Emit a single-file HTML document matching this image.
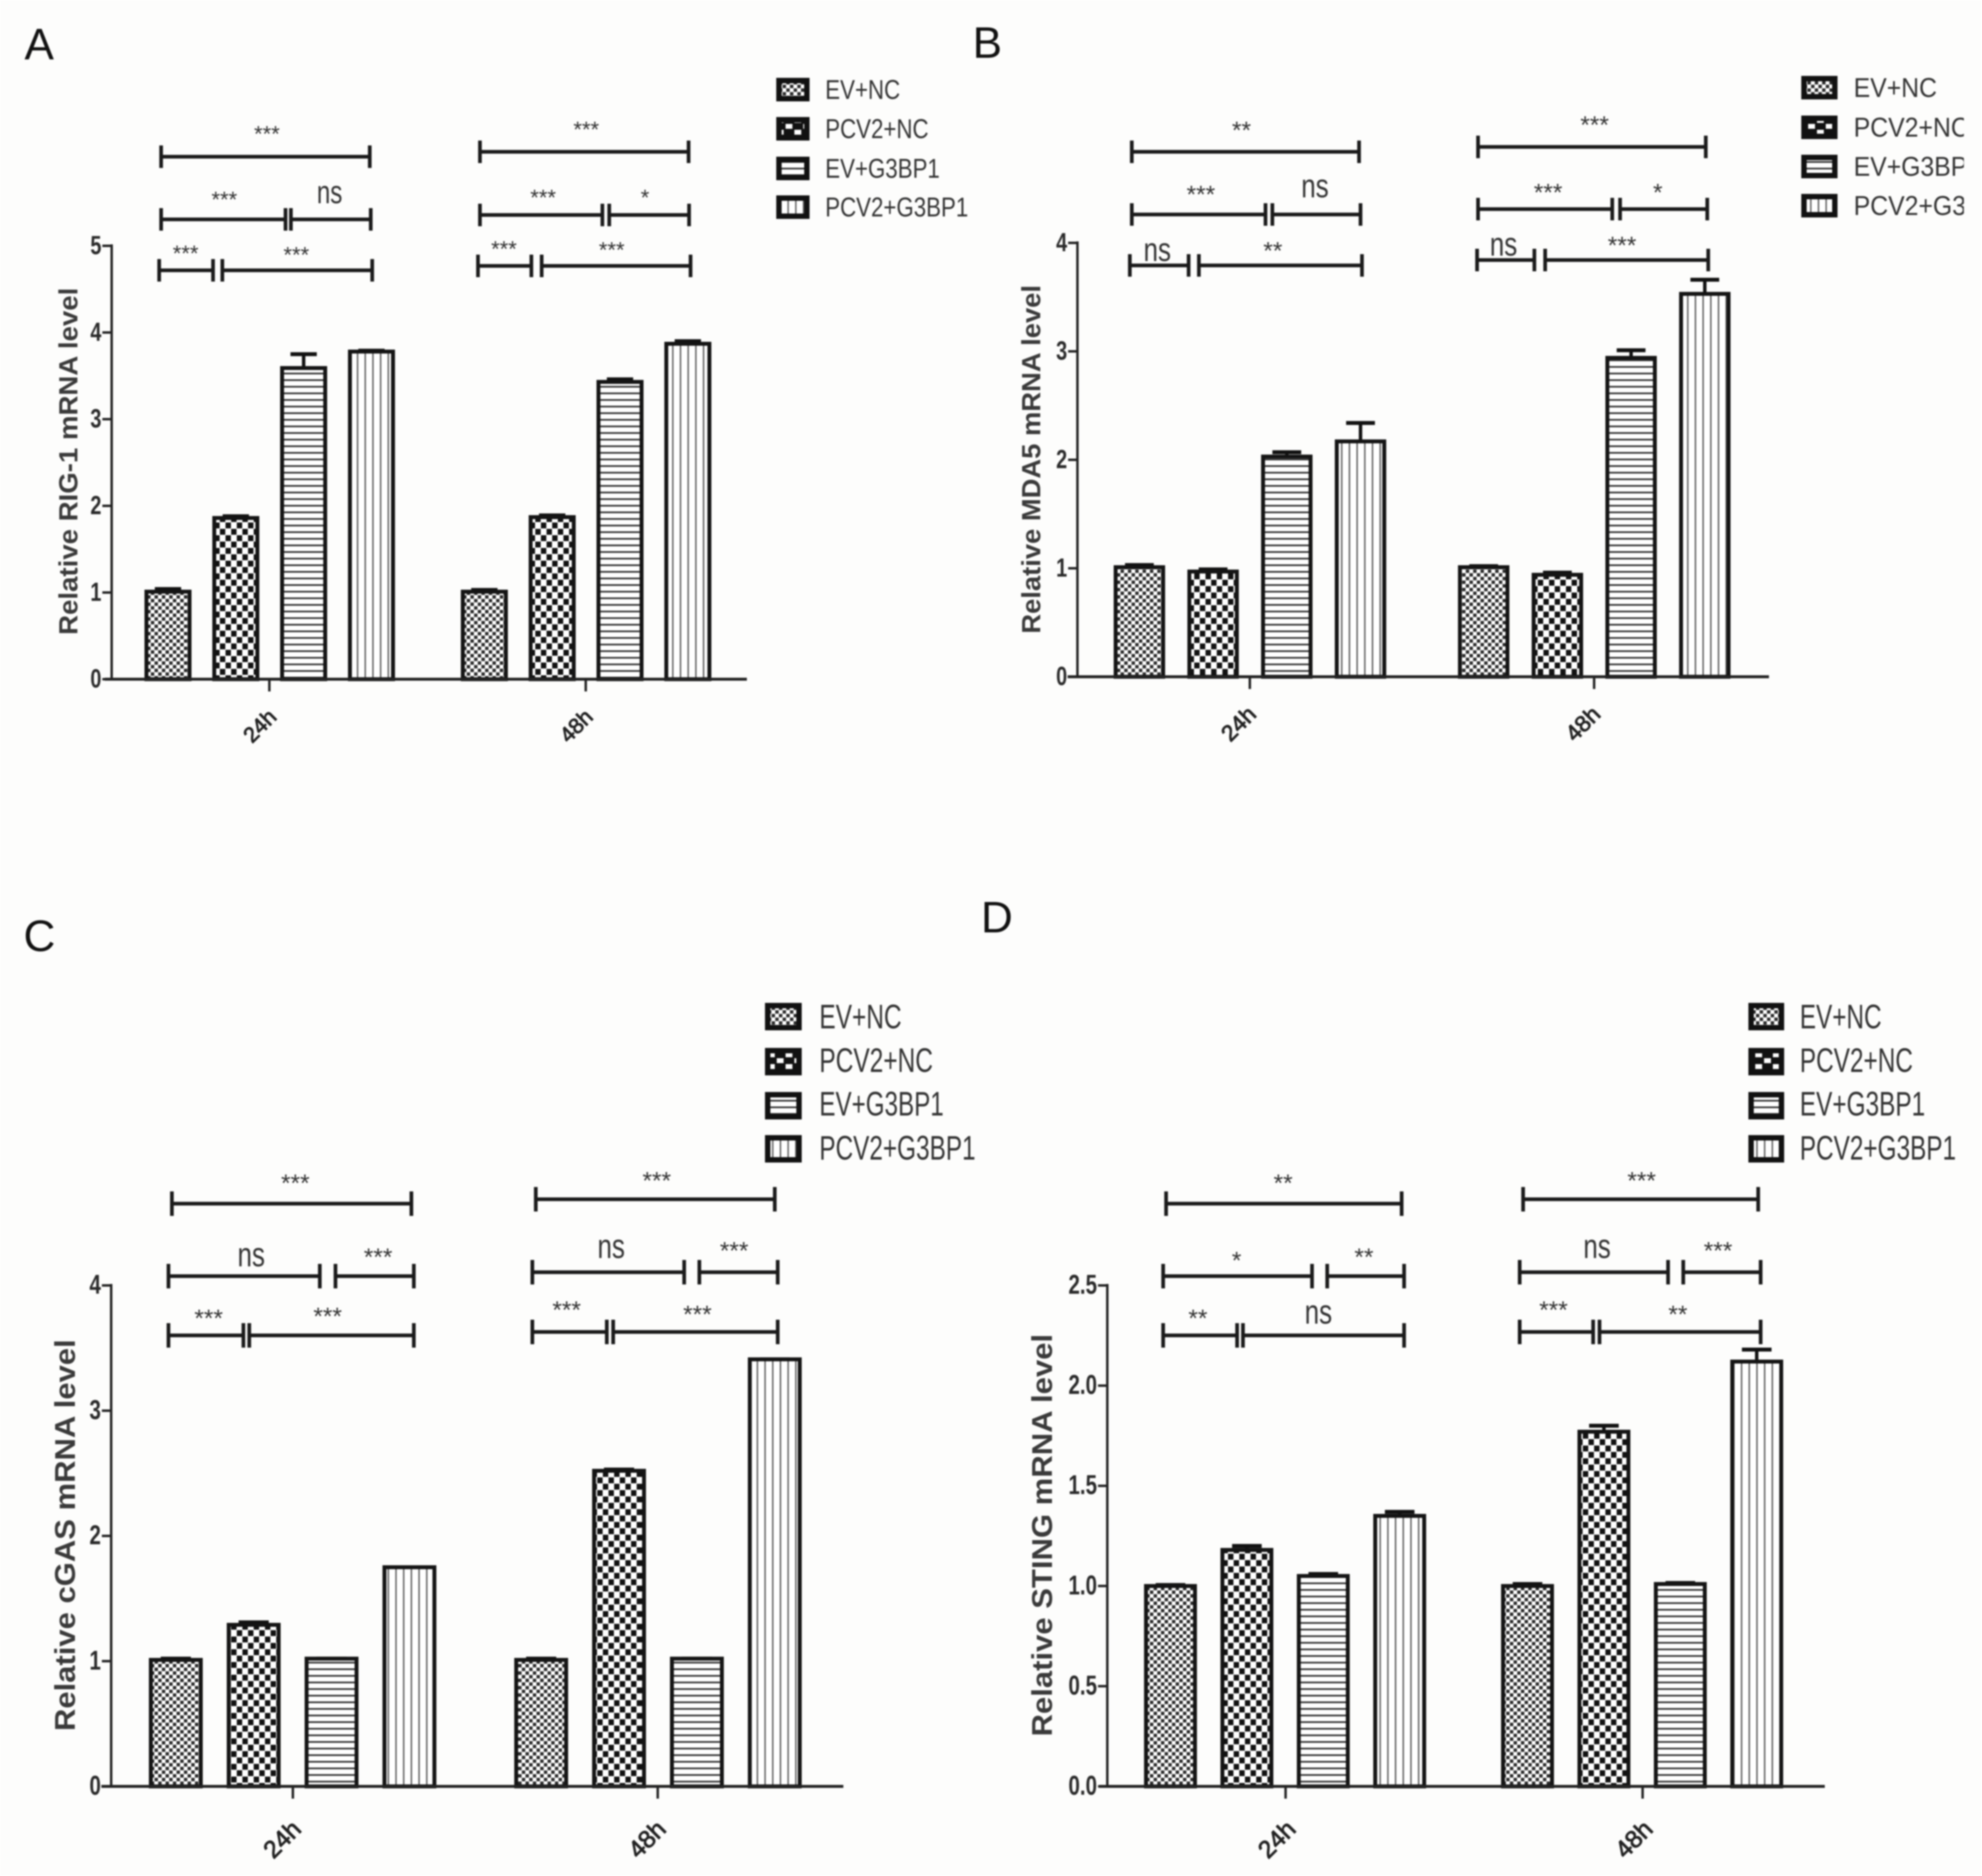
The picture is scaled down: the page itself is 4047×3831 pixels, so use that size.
<!DOCTYPE html>
<html lang="en">
<head>
<meta charset="utf-8">
<title>mRNA levels panels A-D</title>
<style>
html,body{margin:0;padding:0;background:#fff;width:4047px;height:3831px;overflow:hidden}
svg{display:block;filter:blur(1.5px)}
text{font-family:"Liberation Sans",Arial,sans-serif}
.letter{font-size:90px;fill:#111}
.ytitle{font-weight:700;fill:#3a3a3a;text-anchor:middle}
.leg{fill:#333}
.sw{stroke:#111;stroke-width:11}
.br{fill:none;stroke:#1a1a1a;stroke-width:7.5}
.st{fill:#333;text-anchor:middle;transform:translate(0,-5px)}
.ns{fill:#333;text-anchor:middle}
</style>
</head>
<body>
<svg id="figure" xmlns="http://www.w3.org/2000/svg" width="4047" height="3831" viewBox="0 0 4047 3831">
<defs>
<pattern id="p1" patternUnits="userSpaceOnUse" width="15" height="15"><rect width="15" height="15" fill="#fff"/><rect x="0.5" y="0.5" width="7" height="7" fill="#2a2a2a"/><rect x="8" y="8" width="7" height="7" fill="#2a2a2a"/></pattern>
<pattern id="p2" patternUnits="userSpaceOnUse" width="23" height="26"><rect width="23" height="26" fill="#fff"/><rect x="0.5" y="1" width="11" height="12" fill="#111"/><rect x="12" y="14" width="11" height="12" fill="#111"/></pattern>
<pattern id="p2L" patternUnits="userSpaceOnUse" width="36" height="24"><rect width="36" height="24" fill="#111"/><rect x="2" y="1" width="14" height="10" fill="#fff"/><rect x="20" y="13" width="14" height="10" fill="#fff"/></pattern>
<pattern id="p3" patternUnits="userSpaceOnUse" width="14" height="13.5"><rect width="14" height="13.5" fill="#fff"/><rect y="5" width="14" height="3.5" fill="#333"/></pattern>
<pattern id="p4" patternUnits="userSpaceOnUse" width="15.7" height="14"><rect width="15.7" height="14" fill="#fff"/><rect x="6.5" width="2.8" height="14" fill="#555"/></pattern>
<clipPath id="edge-b"><rect x="3600" y="100" width="410" height="400"/></clipPath>
</defs>
<rect width="4047" height="3831" fill="#fdfdfc"/>

<text class="letter" x="50" y="121">A</text>
<text class="letter" x="1986" y="118">B</text>
<text class="letter" x="48" y="1942">C</text>
<text class="letter" x="2003" y="1904">D</text>

<text class="ytitle" font-size="54" transform="translate(158,942) rotate(-90)" textLength="709" lengthAdjust="spacingAndGlyphs">Relative RIG-1 mRNA level</text>
<text class="ytitle" font-size="54" transform="translate(2124,938) rotate(-90)" textLength="712" lengthAdjust="spacingAndGlyphs">Relative MDA5 mRNA level</text>
<text class="ytitle" font-size="58" transform="translate(153,3135) rotate(-90)" textLength="800" lengthAdjust="spacingAndGlyphs">Relative cGAS mRNA level</text>
<text class="ytitle" font-size="58" transform="translate(2148,3135) rotate(-90)" textLength="822" lengthAdjust="spacingAndGlyphs">Relative STING mRNA level</text>

<g>
<rect class="sw" x="1590.5" y="164.5" width="57" height="37" fill="url(#p1)"/>
<rect class="sw" x="1590.5" y="244.5" width="57" height="37" fill="url(#p2L)"/>
<rect class="sw" x="1590.5" y="325.5" width="57" height="37" fill="url(#p3)"/>
<rect class="sw" x="1590.5" y="404.5" width="57" height="37" fill="url(#p4)"/>
<text class="leg" font-size="56" x="1685" y="202" textLength="153" lengthAdjust="spacingAndGlyphs">EV+NC</text>
<text class="leg" font-size="56" x="1685" y="282" textLength="211" lengthAdjust="spacingAndGlyphs">PCV2+NC</text>
<text class="leg" font-size="56" x="1685" y="363" textLength="234" lengthAdjust="spacingAndGlyphs">EV+G3BP1</text>
<text class="leg" font-size="56" x="1685" y="442" textLength="292" lengthAdjust="spacingAndGlyphs">PCV2+G3BP1</text>
</g>
<g>
<rect class="sw" x="3683.5" y="160.5" width="63" height="37" fill="url(#p1)"/>
<rect class="sw" x="3683.5" y="241.5" width="63" height="37" fill="url(#p2L)"/>
<rect class="sw" x="3683.5" y="321.5" width="63" height="37" fill="url(#p3)"/>
<rect class="sw" x="3683.5" y="401.5" width="63" height="37" fill="url(#p4)"/>
<g clip-path="url(#edge-b)">
<text class="leg" font-size="56" x="3785" y="198" textLength="170" lengthAdjust="spacingAndGlyphs">EV+NC</text>
<text class="leg" font-size="56" x="3785" y="279" textLength="235" lengthAdjust="spacingAndGlyphs">PCV2+NC</text>
<text class="leg" font-size="56" x="3785" y="359" textLength="260" lengthAdjust="spacingAndGlyphs">EV+G3BP1</text>
<text class="leg" font-size="56" x="3785" y="439" textLength="325" lengthAdjust="spacingAndGlyphs">PCV2+G3BP1</text>
</g>
</g>
<g>
<rect class="sw" x="1567.5" y="2053.5" width="64" height="45" fill="url(#p1)"/>
<rect class="sw" x="1567.5" y="2145.5" width="64" height="45" fill="url(#p2L)"/>
<rect class="sw" x="1567.5" y="2235.5" width="64" height="45" fill="url(#p3)"/>
<rect class="sw" x="1567.5" y="2323.5" width="64" height="45" fill="url(#p4)"/>
<text class="leg" font-size="70" x="1673" y="2100" textLength="168" lengthAdjust="spacingAndGlyphs">EV+NC</text>
<text class="leg" font-size="70" x="1673" y="2189" textLength="232" lengthAdjust="spacingAndGlyphs">PCV2+NC</text>
<text class="leg" font-size="70" x="1673" y="2278" textLength="254" lengthAdjust="spacingAndGlyphs">EV+G3BP1</text>
<text class="leg" font-size="70" x="1673" y="2368" textLength="319" lengthAdjust="spacingAndGlyphs">PCV2+G3BP1</text>
</g>
<g>
<rect class="sw" x="3575.5" y="2053.5" width="62" height="45" fill="url(#p1)"/>
<rect class="sw" x="3575.5" y="2145.5" width="62" height="45" fill="url(#p2L)"/>
<rect class="sw" x="3575.5" y="2235.5" width="62" height="45" fill="url(#p3)"/>
<rect class="sw" x="3575.5" y="2323.5" width="62" height="45" fill="url(#p4)"/>
<text class="leg" font-size="70" x="3675" y="2100" textLength="167" lengthAdjust="spacingAndGlyphs">EV+NC</text>
<text class="leg" font-size="70" x="3675" y="2189" textLength="231" lengthAdjust="spacingAndGlyphs">PCV2+NC</text>
<text class="leg" font-size="70" x="3675" y="2278" textLength="256" lengthAdjust="spacingAndGlyphs">EV+G3BP1</text>
<text class="leg" font-size="70" x="3675" y="2368" textLength="319" lengthAdjust="spacingAndGlyphs">PCV2+G3BP1</text>
</g>

<g>
<path class="br" d="M329 297V343M329 320H755M755 297V343"/>
<path class="br" d="M329 425V471M329 448H583M583 425V471"/>
<path class="br" d="M594 425V471M594 448H757M757 425V471"/>
<path class="br" d="M325 529V575M325 552H435M435 529V575"/>
<path class="br" d="M454 529V575M454 552H760M760 529V575"/>
<path class="br" d="M980 287V333M980 310H1406M1406 287V333"/>
<path class="br" d="M980 416V462M980 439H1230M1230 416V462"/>
<path class="br" d="M1244 416V462M1244 439H1407M1407 416V462"/>
<path class="br" d="M976 520V566M976 543H1085M1085 520V566"/>
<path class="br" d="M1106 520V566M1106 543H1410M1410 520V566"/>
<g font-size="45">
<text class="st" x="545" y="294">***</text>
<text class="st" x="458" y="428">***</text>
<text class="st" x="379" y="538">***</text>
<text class="st" x="605" y="541">***</text>
<text class="st" x="1197" y="285">***</text>
<text class="st" x="1109" y="424">***</text>
<text class="st" x="1317" y="424">*</text>
<text class="st" x="1029" y="529">***</text>
<text class="st" x="1249" y="531">***</text>
</g>
<text class="ns" font-size="66" x="673" y="415" textLength="52" lengthAdjust="spacingAndGlyphs">ns</text>
</g>

<g>
<path class="br" d="M2311 287V333M2311 310H2775M2775 287V333"/>
<path class="br" d="M2311 415V461M2311 438H2584M2584 415V461"/>
<path class="br" d="M2598 415V461M2598 438H2778M2778 415V461"/>
<path class="br" d="M2307 519V565M2307 542H2427M2427 519V565"/>
<path class="br" d="M2448 519V565M2448 542H2781M2781 519V565"/>
<path class="br" d="M3018 277V323M3018 300H3483M3483 277V323"/>
<path class="br" d="M3018 404V450M3018 427H3292M3292 404V450"/>
<path class="br" d="M3308 404V450M3308 427H3486M3486 404V450"/>
<path class="br" d="M3016 508V554M3016 531H3133M3133 508V554"/>
<path class="br" d="M3155 508V554M3155 531H3488M3488 508V554"/>
<g font-size="50">
<text class="st" x="2535" y="288">**</text>
<text class="st" x="2452" y="419">***</text>
<text class="st" x="2599" y="534">**</text>
<text class="st" x="3256" y="277">***</text>
<text class="st" x="3161" y="415">***</text>
<text class="st" x="3385" y="415">*</text>
<text class="st" x="3312" y="523">***</text>
</g>
<g font-size="68">
<text class="ns" x="2685" y="403" textLength="56" lengthAdjust="spacingAndGlyphs">ns</text>
<text class="ns" x="2363" y="533" textLength="56" lengthAdjust="spacingAndGlyphs">ns</text>
<text class="ns" x="3070" y="522" textLength="56" lengthAdjust="spacingAndGlyphs">ns</text>
</g>
</g>

<g>
<path class="br" d="M351 2433V2483M351 2458H840M840 2433V2483"/>
<path class="br" d="M344 2581V2631M344 2606H653M653 2581V2631"/>
<path class="br" d="M685 2581V2631M685 2606H845M845 2581V2631"/>
<path class="br" d="M344 2702V2752M344 2727H497M497 2702V2752"/>
<path class="br" d="M509 2702V2752M509 2727H845M845 2702V2752"/>
<path class="br" d="M1094 2424V2474M1094 2449H1582M1582 2424V2474"/>
<path class="br" d="M1087 2573V2623M1087 2598H1397M1397 2573V2623"/>
<path class="br" d="M1428 2573V2623M1428 2598H1588M1588 2573V2623"/>
<path class="br" d="M1087 2695V2745M1087 2720H1239M1239 2695V2745"/>
<path class="br" d="M1252 2695V2745M1252 2720H1588M1588 2695V2745"/>
<g font-size="50">
<text class="st" x="603" y="2438">***</text>
<text class="st" x="772" y="2589">***</text>
<text class="st" x="426" y="2714">***</text>
<text class="st" x="669" y="2710">***</text>
<text class="st" x="1341" y="2433">***</text>
<text class="st" x="1499" y="2576">***</text>
<text class="st" x="1157" y="2697">***</text>
<text class="st" x="1424" y="2706">***</text>
</g>
<g font-size="70">
<text class="ns" x="513" y="2586" textLength="56" lengthAdjust="spacingAndGlyphs">ns</text>
<text class="ns" x="1248" y="2569" textLength="56" lengthAdjust="spacingAndGlyphs">ns</text>
</g>
</g>

<g>
<path class="br" d="M2381 2433V2483M2381 2458H2862M2862 2433V2483"/>
<path class="br" d="M2375 2581V2631M2375 2606H2679M2679 2581V2631"/>
<path class="br" d="M2710 2581V2631M2710 2606H2867M2867 2581V2631"/>
<path class="br" d="M2375 2702V2752M2375 2727H2526M2526 2702V2752"/>
<path class="br" d="M2538 2702V2752M2538 2727H2867M2867 2702V2752"/>
<path class="br" d="M3110 2424V2474M3110 2449H3590M3590 2424V2474"/>
<path class="br" d="M3103 2573V2623M3103 2598H3406M3406 2573V2623"/>
<path class="br" d="M3437 2573V2623M3437 2598H3595M3595 2573V2623"/>
<path class="br" d="M3103 2695V2745M3103 2720H3253M3253 2695V2745"/>
<path class="br" d="M3266 2695V2745M3266 2720H3595M3595 2695V2745"/>
<g font-size="50">
<text class="st" x="2620" y="2438">**</text>
<text class="st" x="2525" y="2596">*</text>
<text class="st" x="2785" y="2589">**</text>
<text class="st" x="2446" y="2714">**</text>
<text class="st" x="3352" y="2433">***</text>
<text class="st" x="3508" y="2576">***</text>
<text class="st" x="3172" y="2697">***</text>
<text class="st" x="3426" y="2706">**</text>
</g>
<g font-size="70">
<text class="ns" x="2692" y="2703" textLength="56" lengthAdjust="spacingAndGlyphs">ns</text>
<text class="ns" x="3261" y="2569" textLength="56" lengthAdjust="spacingAndGlyphs">ns</text>
</g>
</g>
</svg>

<script>
var timepoints = ['24h', '48h'];
var seriesKeys = ['ev-nc', 'pcv2-nc', 'ev-g3bp1', 'pcv2-g3bp1'];

var rigValues24 = [1.01, 1.86, 3.59, 3.78];
var rigErrors24 = [0.03, 0.02, 0.16, 0.01];
var rigValues48 = [1.01, 1.87, 3.43, 3.87];
var rigErrors48 = [0.02, 0.02, 0.03, 0.03];
var rigTicks = ['0', '1', '2', '3', '4', '5'];

var mdaValues24 = [1.01, 0.97, 2.03, 2.17];
var mdaErrors24 = [0.02, 0.02, 0.04, 0.17];
var mdaValues48 = [1.01, 0.94, 2.94, 3.53];
var mdaErrors48 = [0.01, 0.02, 0.07, 0.13];
var mdaTicks = ['0', '1', '2', '3', '4'];

var cgasValues24 = [1.01, 1.29, 1.02, 1.75];
var cgasErrors24 = [0.01, 0.02, 0.00, 0.00];
var cgasValues48 = [1.01, 2.52, 1.02, 3.41];
var cgasErrors48 = [0.01, 0.01, 0.00, 0.00];
var cgasTicks = ['0', '1', '2', '3', '4'];

var stingValues24 = [1.00, 1.18, 1.05, 1.35];
var stingErrors24 = [0.005, 0.02, 0.01, 0.02];
var stingValues48 = [1.00, 1.77, 1.01, 2.12];
var stingErrors48 = [0.01, 0.03, 0.005, 0.06];
var stingTicks = ['0.0', '0.5', '1.0', '1.5', '2.0', '2.5'];

var NS = 'http://www.w3.org/2000/svg';
var figure = document.getElementById('figure');

function makeEl(tag, parent) {
  var el = document.createElementNS(NS, tag);
  parent.appendChild(el);
  return el;
}

function line(parent, x1, y1, x2, y2, w, color) {
  var l = makeEl('line', parent);
  l.setAttribute('x1', x1);
  l.setAttribute('y1', y1);
  l.setAttribute('x2', x2);
  l.setAttribute('y2', y2);
  l.setAttribute('stroke', color);
  l.setAttribute('stroke-width', w);
  return l;
}

function drawPanel(id, opt, ticks, values, errors) {
  var g = makeEl('g', figure);
  
  

  var yMax = parseFloat(ticks[ticks.length - 1]);
  function yScale(v) { return opt.y0 - (opt.y0 - opt.yTop) * v / yMax; }

  values.forEach(function (groupValues, gi) {
    groupValues.forEach(function (v, si) {
      var left = opt.barX + gi * opt.groupOffset + si * opt.barStep;
      var cx = left + opt.barW / 2;
      var errTop = yScale(v + errors[gi][si]);
      var whisker = line(g, cx, yScale(v), cx, errTop, 7, '#111');
      
      
      var cap = line(g, cx - opt.barW * 0.28, errTop, cx + opt.barW * 0.28, errTop, 8, '#111');
      
      
      var bar = makeEl('rect', g);
      
      
      bar.setAttribute('x', left + 4);
      bar.setAttribute('y', yScale(v));
      bar.setAttribute('width', opt.barW - 8);
      bar.setAttribute('height', opt.y0 - yScale(v));
      bar.setAttribute('fill', 'url(#p' + (si + 1) + ')');
      bar.setAttribute('stroke', '#141414');
      bar.setAttribute('stroke-width', 8);
    });
  });

  var yAxis = line(g, opt.axisX, opt.yTop - 3, opt.axisX, opt.y0 + 3, 5, '#222');
  
  
  var xAxis = line(g, opt.xStart, opt.y0, opt.xEnd, opt.y0, 6, '#222');
  
  

  ticks.forEach(function (t) {
    var ty = yScale(parseFloat(t));
    var mark = line(g, opt.axisX - 19, ty, opt.axisX, ty, 5, '#222');
    
    
    var label = makeEl('text', g);
    
    
    label.setAttribute('font-size', opt.tickSize);
    label.setAttribute('font-weight', '700');
    label.setAttribute('fill', '#2a2a2a');
    label.setAttribute('text-anchor', 'end');
    label.setAttribute('transform', 'translate(' + (opt.axisX - 21) + ',' + (ty + 17) + ') scale(0.75,1)');
    label.textContent = t;
  });

  timepoints.forEach(function (name, gi) {
    var tx = opt.tickX + gi * opt.groupTick;
    var mark = line(g, tx, opt.y0, tx, opt.y0 + 25, 5, '#222');
    
    
    var label = makeEl('text', g);
    
    
    label.setAttribute('font-size', opt.catSize);
    label.setAttribute('fill', '#222');
    label.setAttribute('stroke', '#222');
    label.setAttribute('stroke-width', '1.6');
    label.setAttribute('text-anchor', 'middle');
    label.setAttribute('transform', 'translate(' + (tx - opt.catDx) + ',' + (opt.y0 + opt.catDy) + ') rotate(-45)');
    label.setAttribute('textLength', opt.catLen);
    label.setAttribute('lengthAdjust', 'spacingAndGlyphs');
    label.textContent = name;
  });
}

drawPanel('rig-1', {axisX: 228, xStart: 214, xEnd: 1525, y0: 1387, yTop: 502, barX: 295, barW: 96, barStep: 138.5, groupOffset: 646, tickX: 550, groupTick: 646, tickSize: 54, catSize: 44, catLen: 74, catDx: 9, catDy: 106}, rigTicks, [rigValues24, rigValues48], [rigErrors24, rigErrors48]);
drawPanel('mda5', {axisX: 2200, xStart: 2180, xEnd: 3612, y0: 1382, yTop: 496, barX: 2274, barW: 105, barStep: 150.5, groupOffset: 703, tickX: 2552, groupTick: 703, tickSize: 54, catSize: 46, catLen: 78, catDx: 12, catDy: 107}, mdaTicks, [mdaValues24, mdaValues48], [mdaErrors24, mdaErrors48]);
drawPanel('cgas', {axisX: 227, xStart: 207, xEnd: 1722, y0: 3648, yTop: 2625, barX: 304, barW: 110, barStep: 159, groupOffset: 746, tickX: 598, groupTick: 745, tickSize: 56, catSize: 50, catLen: 84, catDx: 10, catDy: 120}, cgasTicks, [cgasValues24, cgasValues48], [cgasErrors24, cgasErrors48]);
drawPanel('sting', {axisX: 2261, xStart: 2244, xEnd: 3726, y0: 3648, yTop: 2625, barX: 2336, barW: 108, barStep: 156, groupOffset: 729, tickX: 2625, groupTick: 729, tickSize: 56, catSize: 50, catLen: 84, catDx: 6, catDy: 120}, stingTicks, [stingValues24, stingValues48], [stingErrors24, stingErrors48]);
</script>
</body>
</html>
